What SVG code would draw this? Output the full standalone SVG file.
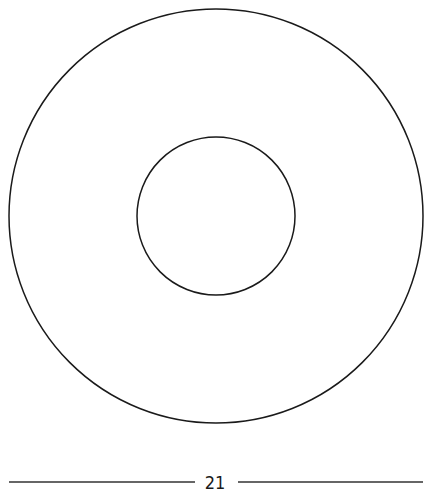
<svg xmlns="http://www.w3.org/2000/svg" width="432" height="498" viewBox="0 0 432 498">
<style>
.c{fill:none;stroke:#1a1a1a;stroke-width:1.5}
.d{stroke:#333;stroke-width:1.7}
.t{font-family:"DejaVu Sans Condensed","Liberation Sans Narrow","Liberation Sans",sans-serif;font-size:18px;fill:#1a1a1a}
</style>
<rect width="432" height="498" fill="#fff"/>
<g id="outer"><circle class="c" cx="216" cy="216" r="207"/></g>
<g id="inner"><circle class="c" cx="216" cy="216" r="79"/></g>
<g id="dimension">
<line class="d" x1="9" y1="482" x2="195" y2="482"/>
<line class="d" x1="238" y1="482" x2="423" y2="482"/>
<text class="t" x="215" y="488.5" text-anchor="middle">21</text>
</g>
</svg>
